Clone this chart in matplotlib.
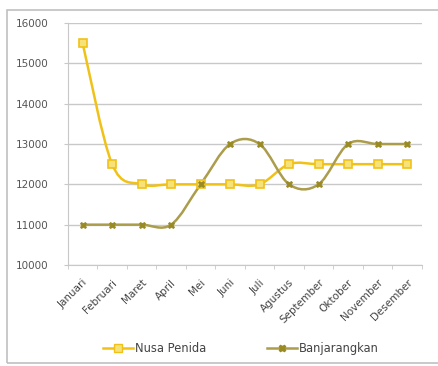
import numpy as np
import matplotlib.pyplot as plt
from matplotlib.path import Path
from matplotlib.patches import PathPatch, Rectangle
from matplotlib.lines import Line2D

months = ["Januari", "Februari", "Maret", "April", "Mei", "Juni", "Juli",
          "Agustus", "September", "Oktober", "November", "Desember"]
nusa_penida = [15500, 12500, 12000, 12000, 12000, 12000, 12000,
               12500, 12500, 12500, 12500, 12500]
banjarangkan = [11000, 11000, 11000, 11000, 12000, 13000, 13000,
                12000, 12000, 13000, 13000, 13000]
y_ticks = [10000, 11000, 12000, 13000, 14000, 15000, 16000]

NP_LINE = "#f0c218"
NP_FACE = "#f7e27a"
BJ_LINE = "#ab9d4c"
BJ_MARK = "#9a8a24"
GRID = "#c8c8c8"


def smooth_path(xs, ys):
    # spreadsheet-style smoothed line: cubic Bezier through every point
    pts = np.column_stack([xs, ys]).astype(float)
    n = len(pts)
    verts = [pts[0]]
    codes = [Path.MOVETO]
    for i in range(n - 1):
        p0 = pts[max(i - 1, 0)]
        p1 = pts[i]
        p2 = pts[i + 1]
        p3 = pts[min(i + 2, n - 1)]
        c1 = p1 + (p2 - p0) / 6.0
        c2 = p2 - (p3 - p1) / 6.0
        verts += [c1, c2, p2]
        codes += [Path.CURVE4] * 3
    return Path(verts, codes)


fig = plt.figure(figsize=(4.38, 3.66), dpi=100)
ax = fig.add_axes([0.155, 0.276, 0.808, 0.661])

x = np.arange(len(months))

for vals, col in [(nusa_penida, NP_LINE), (banjarangkan, BJ_LINE)]:
    ax.add_patch(PathPatch(smooth_path(x, vals), facecolor="none",
                           edgecolor=col, lw=1.8, zorder=3))

ax.plot(x, nusa_penida, ls="none", marker="s", ms=5.5,
        mfc=NP_FACE, mec=NP_LINE, mew=1.2, zorder=4)
ax.plot(x, banjarangkan, ls="none", marker="X", ms=5,
        mfc=BJ_MARK, mec=BJ_MARK, mew=0.5, zorder=4)

ax.set_xlim(-0.5, len(months) - 0.5)
ax.set_ylim(10000, 16000)
ax.set_yticks(y_ticks)
ax.set_yticklabels([str(v) for v in y_ticks], fontsize=7.5, color="#555555")
ax.yaxis.grid(True, color=GRID, lw=1)
ax.set_axisbelow(True)

ax.set_xticks(x)
ax.set_xticklabels(months, rotation=45, ha="right", rotation_mode="anchor",
                   fontsize=7.5, color="#444444")
ax.tick_params(axis="x", length=0, pad=9)
ax.set_xticks(np.arange(-0.5, len(months)), minor=True)
ax.tick_params(axis="x", which="minor", length=3, color=GRID)
ax.tick_params(axis="y", length=3, color=GRID, pad=11)

for side in ["top", "right"]:
    ax.spines[side].set_visible(False)
for side in ["left", "bottom"]:
    ax.spines[side].set_color(GRID)

handles = [
    Line2D([], [], color=NP_LINE, lw=1.8, marker="s", ms=5.5,
           mfc=NP_FACE, mec=NP_LINE),
    Line2D([], [], color=BJ_LINE, lw=1.8, marker="X", ms=5,
           mfc=BJ_MARK, mec=BJ_MARK),
]
fig.legend(handles, ["Nusa Penida", "Banjarangkan"], loc="center",
           bbox_to_anchor=(0.55, 0.049), ncol=2, frameon=False,
           fontsize=8.3, handlelength=2.6, handletextpad=0.2,
           columnspacing=5.2, labelcolor="#444444")

# chart area border
fig.add_artist(Rectangle((0.016, 0.007), 1.05, 0.965,
                         transform=fig.transFigure, fill=False,
                         edgecolor="#c0c0c0", lw=1.2))

fig.savefig("out.png", dpi=100)
